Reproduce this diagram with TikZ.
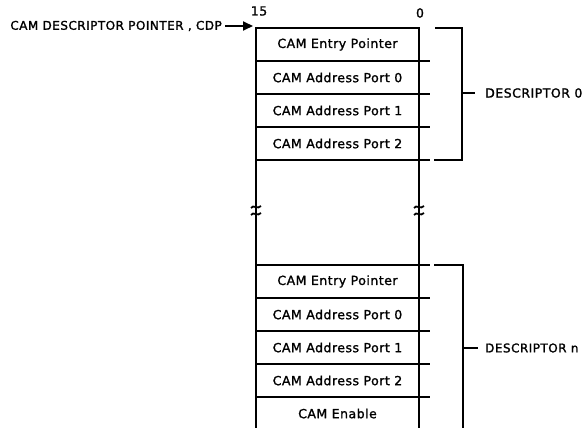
\documentclass[tikz,border=0pt]{standalone}
\usepackage{fontspec}
\setmainfont{DejaVu Sans}[LetterSpace=4,FakeBold=1.4]
\usetikzlibrary{positioning,arrows.meta}
\begin{document}
\begin{tikzpicture}[x=1pt,y=-1pt,
  font=\fontsize{12.5}{14}\selectfont,
  row/.style={draw, line width=2.8pt, minimum width=163pt, minimum height=33pt,
              inner sep=0pt, outer sep=0pt},
  openrow/.style={minimum width=163pt, minimum height=33pt, inner sep=0pt, outer sep=0pt},
  heavy/.style={line width=2.8pt},
  brack/.style={line width=2pt},
  brk/.style={line width=1.8pt},
  lbl/.style={inner sep=0pt, anchor=west},
  brkmark/.pic={
    \draw[brk] (-5,-2) .. controls (-3,-6) and (2,0) .. (5,-4);
    \draw[brk] (-5,5) .. controls (-3,1) and (2,7) .. (5,3);
  }]
\useasboundingbox (0,0) rectangle (584,428);

% upper descriptor
\node[row, anchor=north west] (u1) at (256,28) {CAM Entry Pointer};
\node[row, below=0pt of u1] (u2) {CAM Address Port 0};
\node[row, below=0pt of u2] (u3) {CAM Address Port 1};
\node[row, below=0pt of u3] (u4) {CAM Address Port 2};

% lower descriptor
\node[row, anchor=north west] (l1) at (256,265) {CAM Entry Pointer};
\node[row, below=0pt of l1] (l2) {CAM Address Port 0};
\node[row, below=0pt of l2] (l3) {CAM Address Port 1};
\node[row, below=0pt of l3] (l4) {CAM Address Port 2};
\node[openrow, below=0pt of l4] (l5) {CAM Enable};

% continuing verticals with break marks
\coordinate (bwl) at (256,210);
\coordinate (bwr) at (419,210);
\draw[heavy] (u4.south west) -- ([yshift=-3pt]bwl |- bwl);
\draw[heavy] ([yshift=4pt]bwl |- bwl) -- (l1.north west);
\draw[heavy] (u4.south east) -- ([yshift=-3pt]bwr |- bwr);
\draw[heavy] ([yshift=4pt]bwr |- bwr) -- (l1.north east);
\pic at (bwl) {brkmark};
\pic at (bwr) {brkmark};
\coordinate (bot) at (0,432);
\draw[heavy] (l4.south west) -- (l4.south west |- bot);
\draw[heavy] (l4.south east) -- (l4.south east |- bot);

% ticks
\foreach \n in {u1,u2,u3,u4,l4,l3,l2,l1} \draw[heavy] (\n.south east) -- ++(11,0);
\draw[heavy] (l1.north east) -- ++(11,0);

% bracket descriptor 0
\coordinate (b0a) at (435,28);
\coordinate (b0b) at (462,28);
\coordinate (b0c) at (462,160);
\coordinate (b0d) at (434,160);
\coordinate (b0m) at (462,93);
\draw[brack] (b0a) -- (b0b) -- (b0c) -- (b0d);
\draw[brack] (b0m) -- ++(13,0) coordinate (b0e);
\node[lbl] (d0) at ([xshift=10pt]b0e) {DESCRIPTOR 0};

% bracket descriptor n
\coordinate (bna) at (434,265);
\coordinate (bnb) at (463,265);
\coordinate (bnc) at (463,432);
\coordinate (bnm) at (463,348);
\draw[brack] (bna) -- (bnb) -- (bnc);
\draw[brack] (bnm) -- ++(15,0) coordinate (bne);
\node[lbl, font=\fontsize{12}{14}\selectfont] (dn) at ([xshift=7pt]bne) {DESCRIPTOR n};

% pointer
\node[inner sep=0pt, anchor=east, font=\fontsize{12}{14}\selectfont] (cdp) at (222,26) {CAM DESCRIPTOR POINTER , CDP};
\coordinate (cdps) at ([xshift=3pt]cdp.east);
\coordinate (cdpe) at ([xshift=-3pt,yshift=2pt]u1.north west);
\draw[line width=1.8pt, -{Triangle[length=10pt,width=9pt]}] (cdps) -- (cdpe);
\node[inner sep=0pt] (b15) at (259,11) {15};
\node[inner sep=0pt] (b0) at (420,13) {0};
\end{tikzpicture}
\end{document}
